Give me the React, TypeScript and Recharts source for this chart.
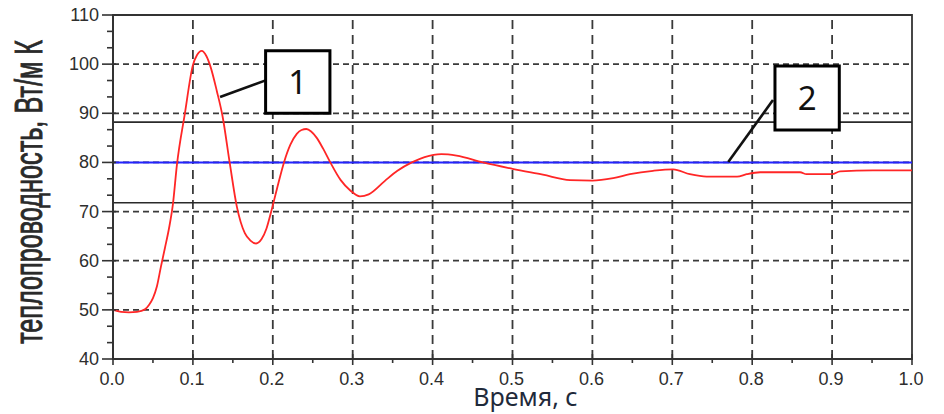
import React from "react";
import {
  LineChart,
  Line,
  XAxis,
  YAxis,
  ReferenceLine,
  ReferenceArea,
} from "recharts";

// Time, s
const time = [
  0, 0.01, 0.02, 0.03, 0.04, 0.045, 0.05, 0.055, 0.06, 0.065, 0.07, 0.075,
  0.08, 0.09, 0.1, 0.105, 0.111, 0.117, 0.122, 0.13, 0.137, 0.146, 0.155,
  0.165, 0.172, 0.179, 0.186, 0.192, 0.198, 0.205, 0.214, 0.222, 0.23, 0.236,
  0.242, 0.248, 0.255, 0.263, 0.272, 0.285, 0.297, 0.309, 0.32, 0.34, 0.356,
  0.374, 0.39, 0.411, 0.43, 0.463, 0.5, 0.538, 0.572, 0.6, 0.626, 0.647,
  0.676, 0.701, 0.722, 0.743, 0.781, 0.793, 0.81, 0.86, 0.868, 0.9, 0.91,
  0.951, 1.0,
];

// Thermal conductivity, W/(m·K) — curve 1
const conductivity = [
  50, 49.6, 49.5, 49.6, 50.1, 51, 52.4, 54.8, 58.8, 62.6, 66.5, 71.5, 79.5,
  90, 99.8, 101.8, 102.7, 101.6, 99.5, 94.5, 89.5, 80, 71, 65.6, 64.1, 63.5,
  64.4, 66.5, 70, 74.5, 80, 83.6, 85.8, 86.6, 86.8, 86.3, 85, 82.8, 80, 76.4,
  74.3, 73.1, 73.5, 76.2, 78.3, 80, 81.1, 81.7, 81.4, 80, 78.7, 77.5, 76.4,
  76.3, 76.8, 77.6, 78.3, 78.6, 77.6, 77.1, 77.1, 77.6, 78.0, 78.0, 77.6,
  77.6, 78.2, 78.4, 78.4,
];

// Target level (line 2) and tolerance band
const targetValue = 80;
const bandUpper = 88.2;
const bandLower = 71.8;

// Axis ticks
const xTicks = [
  0, 0.05, 0.1, 0.15, 0.2, 0.25, 0.3, 0.35, 0.4, 0.45, 0.5, 0.55, 0.6, 0.65,
  0.7, 0.75, 0.8, 0.85, 0.9, 0.95, 1.0,
];
const xGrid = [0.1, 0.2, 0.3, 0.4, 0.5, 0.6, 0.7, 0.8, 0.9];
const yTicks = [
  40, 43.333, 46.667, 50, 53.333, 56.667, 60, 63.333, 66.667, 70, 73.333,
  76.667, 80, 83.333, 86.667, 90, 93.333, 96.667, 100, 103.333, 106.667, 110,
];
const yGrid = [50, 60, 70, 80, 90, 100];

// Callout boxes and their leaders (data coordinates)
const callouts = [
  { text: "1", x1: 0.191, x2: 0.2715, y1: 90.0, y2: 102.7, from: { x: 0.134, y: 93.3 }, to: { x: 0.191, y: 96.7 } },
  { text: "2", x1: 0.8285, x2: 0.909, y1: 86.6, y2: 99.6, from: { x: 0.77, y: 80.1 }, to: { x: 0.826, y: 92.7 } },
];

const data = time.map((t, i) => ({ t, k: conductivity[i] }));

const AXIS = "#333";
const TICK_FONT = "'Liberation Sans', Arial, sans-serif";

const isMajor = (v: number, step: number) =>
  Math.abs(v / step - Math.round(v / step)) < 1e-4;

const XTick = (props: any) => {
  const { x, y, payload } = props;
  const v = payload.value as number;
  const major = isMajor(v, 0.1);
  return (
    <g>
      <line
        x1={x}
        x2={x}
        y1={major ? y - 5 : y}
        y2={major ? y + 6 : y + 4}
        stroke={AXIS}
        strokeWidth={1.6}
      />
      {major && (
        <text
          x={x - 1}
          y={y + 26}
          textAnchor="middle"
          fontSize={18}
          fontFamily={TICK_FONT}
          fill="#2e2e2e"
        >
          {v.toFixed(1)}
        </text>
      )}
    </g>
  );
};

const YTick = (props: any) => {
  const { x, y, payload } = props;
  const v = payload.value as number;
  const major = isMajor(v, 10);
  return (
    <g>
      <line
        x1={major ? x - 11 : x - 6}
        x2={major ? x + 3 : x}
        y1={y}
        y2={y}
        stroke={AXIS}
        strokeWidth={1.6}
      />
      {major && (
        <text
          x={x - 14}
          y={y + 6}
          textAnchor="end"
          fontSize={18}
          fontFamily={TICK_FONT}
          fill="#2e2e2e"
        >
          {Math.round(v)}
        </text>
      )}
    </g>
  );
};

const YTitle = (props: any) => {
  const vb = props.viewBox || { x: 53, y: 15, width: 60, height: 344 };
  const cx = vb.x - 11;
  const cy = vb.y + vb.height / 2 + 5;
  return (
    <text
      transform={`translate(${cx}, ${cy}) rotate(-90)`}
      textAnchor="middle"
      fontSize={39}
      fontFamily={TICK_FONT}
      fill="#2a2a2a"
      stroke="#2a2a2a"
      strokeWidth={0.9}
      textLength={304}
      lengthAdjust="spacingAndGlyphs"
    >
      теплопроводность, Вт/м К
    </text>
  );
};

const XTitle = (props: any) => {
  const vb = props.viewBox || { x: 113, y: 359, width: 799, height: 30 };
  return (
    <text
      x={vb.x + vb.width / 2 + 13}
      y={vb.y + 47}
      textAnchor="middle"
      fontSize={25}
      fontFamily="'Noto Sans', 'Open Sans', sans-serif"
      fill="#1f2a3a"
    >
      Время, с
    </text>
  );
};

export default function App() {
  return (
    <div style={{ position: "absolute", left: 0, top: 0, background: "#fff" }}>
      <LineChart
        width={944}
        height={414}
        data={data}
        margin={{ top: 15, right: 32, bottom: 25, left: 53 }}
      >
        <XAxis
          type="number"
          dataKey="t"
          domain={[0, 1]}
          ticks={xTicks}
          interval={0}
          tick={<XTick />}
          tickLine={false}
          tickSize={0}
          tickMargin={0}
          axisLine={{ stroke: AXIS, strokeWidth: 2 }}
          height={30}
          label={{ content: XTitle }}
        />
        <YAxis
          type="number"
          domain={[40, 110]}
          ticks={yTicks}
          interval={0}
          tick={<YTick />}
          tickLine={false}
          tickSize={0}
          tickMargin={0}
          axisLine={{ stroke: AXIS, strokeWidth: 2 }}
          width={60}
          label={{ content: YTitle }}
        />

        {yGrid.map((v) => (
          <ReferenceLine
            key={`h${v}`}
            y={v}
            stroke="#3a3a3a"
            strokeWidth={1.8}
            strokeDasharray="6 4"
          />
        ))}
        {xGrid.map((v) => (
          <ReferenceLine
            key={`v${v}`}
            x={v}
            stroke="#3a3a3a"
            strokeWidth={1.8}
            strokeDasharray="9 6"
          />
        ))}

        <ReferenceLine y={bandUpper} stroke="#2a2a2a" strokeWidth={1.6} />
        <ReferenceLine y={bandLower} stroke="#2a2a2a" strokeWidth={1.6} />
        <ReferenceLine y={targetValue} stroke="#2323ff" strokeWidth={2} />

        {/* plot frame */}
        <ReferenceArea
          x1={0}
          x2={1}
          y1={40}
          y2={110}
          fill="none"
          fillOpacity={0}
          stroke={AXIS}
          strokeWidth={1.8}
        />

        <Line
          type="monotone"
          dataKey="k"
          stroke="#ff2626"
          strokeWidth={1.8}
          dot={false}
          isAnimationActive={false}
        />

        {callouts.map((c) => (
          <ReferenceLine
            key={`lead${c.text}`}
            segment={[c.from, c.to]}
            stroke="#111"
            strokeWidth={2.6}
            ifOverflow="visible"
            zIndex={1400}
          />
        ))}
        {callouts.map((c) => (
          <ReferenceArea
            key={`box${c.text}`}
            x1={c.x1}
            x2={c.x2}
            y1={c.y1}
            y2={c.y2}
            fill="#fff"
            fillOpacity={1}
            stroke="#000"
            strokeWidth={3}
            ifOverflow="visible"
            zIndex={1500}
            label={{
              value: c.text,
              position: "center",
              fontSize: 33,
              fill: "#111",
              fontFamily: "'Noto Sans', 'Open Sans', sans-serif",
            }}
          />
        ))}
      </LineChart>
    </div>
  );
}
